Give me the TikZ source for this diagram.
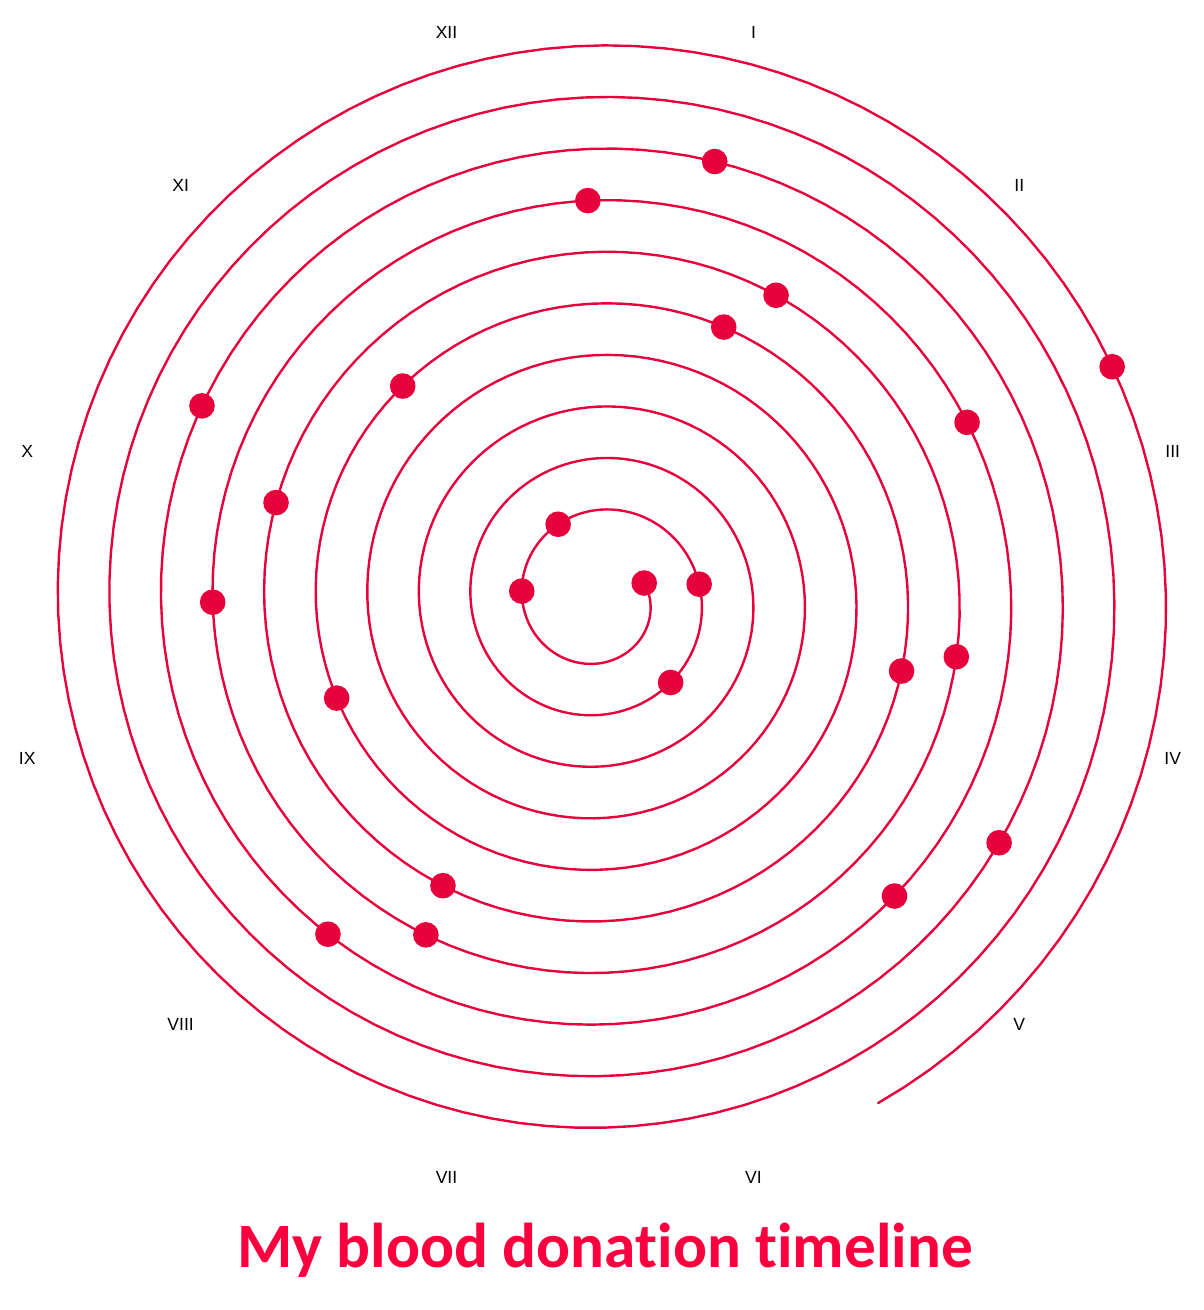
\documentclass[tikz,border=0pt]{standalone}
\usepackage{fontspec}
\setmainfont{Liberation Sans}
\newfontfamily\titlefont[Ligatures=NoCommon]{Carlito}
\usetikzlibrary{calc, positioning}
\usepackage{xcolor}
\definecolor{BR}{RGB}{230,0,60}
\definecolor{TR}{RGB}{250,0,62}

\begin{document}
\begin{tikzpicture}[
  x=0.025cm, y=0.025cm,
  spir/.style={draw=BR, line width=1.7pt, line cap=round},
  dot/.style={circle, fill=BR, inner sep=0pt, minimum size=0.64cm},
  month/.style={font=\fontsize{12.5}{14}\selectfont, text=black},
  ttl/.style={font=\titlefont\bfseries\fontsize{45}{50}\selectfont, text=TR}
]
\useasboundingbox (-599,-710.5) rectangle (605,599.5);

% Spiral: one turn per year, clockwise
\draw[spir, variable=\t, domain=-20:3661, samples=1200]
  plot ({-\t}:{51+\t/360*51.6});

% Donations (angle along the spiral)
\foreach \p [count=\i] in {-20,186.2,241.5,351.3,409.2,1599.4,1667.4,
  1734.6,1813.3,1918.6,1996.7,2100.2,2169.1,2277.3,2339.6,2428.4,
  2494.3,2565.1,2649,2726,2804.8,2911.3,3575.6}
  \node[dot] (d\i) at ({-\p}:{51+\p/360*51.6}) {};

% Months
\coordinate (c) at (1,-5.5);
\foreach \m [count=\k] in {I,II,III,IV,V,VI,VII,VIII,IX,X,XI,XII}
  \node[month] (m\k) at ($(c)+({105-30*\k}:593)$) {\m};

% Title
\node[ttl, anchor=base] (title) at (6,-667.5) {My blood donation timeline};
\end{tikzpicture}
\end{document}
